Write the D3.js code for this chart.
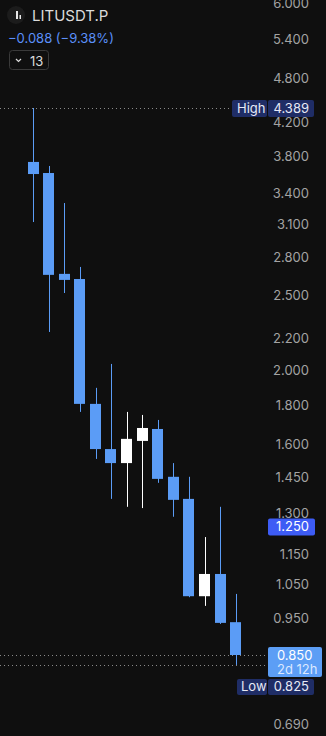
<!DOCTYPE html>
<html>
<head>
<meta charset="utf-8">
<script src="https://cdn.jsdelivr.net/npm/d3@7"></script>
<style>
  html, body { margin: 0; padding: 0; background: #0f0f0f; }
  svg { display: block; font-family: Inter, "Noto Sans", sans-serif; }
</style>
</head>
<body>
<div id="chart"></div>
<script>
// OHLC candles (log scale chart)
var opens  = [3.733, 3.611, 2.668, 2.627, 1.806, 1.577, 1.512, 1.616, 1.675, 1.451, 1.358, 1.014, 1.084, 0.938];
var highs  = [4.389, 3.688, 3.300, 2.724, 1.895, 2.036, 1.763, 1.747, 1.721, 1.512, 1.451, 1.211, 1.326, 1.021];
var lows   = [3.117, 2.241, 2.519, 1.763, 1.531, 1.358, 1.326, 1.321, 1.425, 1.287, 1.011, 0.985, 0.933, 0.825];
var closes = [3.600, 2.660, 2.620, 1.806, 1.577, 1.512, 1.626, 1.680, 1.442, 1.354, 1.014, 1.084, 0.936, 0.850];
var tickValues = [6.0, 5.4, 4.8, 4.2, 3.8, 3.4, 3.1, 2.8, 2.5, 2.2, 2.0, 1.8, 1.6, 1.45, 1.3, 1.15, 1.05, 0.95, 0.69];
var highValue = 4.389, lowValue = 0.825, lastValue = 0.850, lineValue = 1.250;

var W = 326, H = 736;
var up = "#ffffff", down = "#5b9cf6";

var svg = d3.select("#chart").append("svg")
  .attr("width", W).attr("height", H);

svg.append("rect").attr("width", W).attr("height", H).attr("fill", "#0f0f0f");

var y = d3.scaleLog()
  .domain([highValue, lastValue])
  .range([108, 655]);

var x = d3.scaleBand()
  .domain(d3.range(opens.length))
  .range([27.5, 241.5])
  .paddingInner(0.27)
  .paddingOuter(0.0);

// dotted guide lines
function dotted(v, x2) {
  svg.append("line")
    .attr("x1", 0).attr("x2", x2)
    .attr("y1", Math.round(y(v)) + 0.5).attr("y2", Math.round(y(v)) + 0.5)
    .attr("stroke", "#8a8a8a").attr("stroke-width", 1)
    .attr("stroke-dasharray", "1,3");
}
dotted(highValue, 232);
dotted(lastValue, 268);
dotted(lowValue, 268);

// candles
var candles = svg.append("g");
var g = candles.selectAll("g").data(opens).enter().append("g");

g.append("line")
  .attr("x1", function(d, i) { return Math.round(x(i) + x.bandwidth() / 2) + 0.5; })
  .attr("x2", function(d, i) { return Math.round(x(i) + x.bandwidth() / 2) + 0.5; })
  .attr("y1", function(d, i) { return y(highs[i]); })
  .attr("y2", function(d, i) { return y(lows[i]); })
  .attr("stroke", function(d, i) { return closes[i] >= opens[i] ? up : down; })
  .attr("stroke-width", 1);

g.append("rect")
  .attr("x", function(d, i) { return Math.round(x(i)); })
  .attr("width", Math.round(x.bandwidth()))
  .attr("y", function(d, i) { return y(Math.max(opens[i], closes[i])); })
  .attr("height", function(d, i) { return Math.max(1, y(Math.min(opens[i], closes[i])) - y(Math.max(opens[i], closes[i]))); })
  .attr("fill", function(d, i) { return closes[i] >= opens[i] ? up : down; });

// axis ticks (right side)
var axis = d3.axisRight(y)
  .tickValues(tickValues)
  .tickSize(0)
  .tickFormat(d3.format(".3f"));

var ax = svg.append("g").attr("transform", "translate(309,0)").call(axis);
ax.select(".domain").remove();
ax.selectAll("text")
  .attr("x", 0)
  .attr("text-anchor", "end")
  .attr("fill", "#a3a3a3")
  .style("font-size", "13px")
  .style("font-family", "Inter, 'Noto Sans', sans-serif");

// price labels
function box(x0, y0, w, h, fill) {
  svg.append("rect").attr("x", x0).attr("y", y0).attr("width", w).attr("height", h)
    .attr("rx", 2).attr("fill", fill);
}
function label(txt, xx, yy, anchor, color) {
  svg.append("text").attr("x", xx).attr("y", yy)
    .attr("text-anchor", anchor || "start")
    .attr("dy", "0.35em")
    .attr("fill", color || "#ffffff")
    .style("font-size", "13px")
    .text(txt);
}

var hy = y(highValue);
box(232, hy - 8, 35, 17, "#1f2d66");
box(268, hy - 8, 46, 17, "#1f2d66");
label("High", 237, hy, "start", "#e6e9f5");
label(d3.format(".3f")(highValue), 309, hy, "end", "#e6e9f5");

var ly = y(lineValue);
box(268, ly - 8, 47, 17, "#3d5cf5");
label(d3.format(".3f")(lineValue), 309, ly, "end");

var py = y(lastValue);
box(268, py - 8, 54, 30, "#5c9ef5");
label(d3.format(".3f")(lastValue), 277, py, "start");
label("2d 12h", 277, py + 14, "start", "#dbe8ff");

var lo = y(lowValue) + 22;
box(237, lo - 8, 30, 16, "#1f2d66");
box(268, lo - 8, 46, 16, "#1f2d66");
label("Low", 241, lo, "start", "#e6e9f5");
label(d3.format(".3f")(lowValue), 309, lo, "end", "#e6e9f5");

// header
svg.append("circle").attr("cx", 16).attr("cy", 15).attr("r", 9).attr("fill", "#1c1c1c");
svg.append("rect").attr("x", 16).attr("y", 11).attr("width", 2).attr("height", 8).attr("fill", "#e8e8e8");
svg.append("rect").attr("x", 19.5).attr("y", 15).attr("width", 1.5).attr("height", 4).attr("fill", "#e8e8e8");

svg.append("text").attr("x", 32).attr("y", 16).attr("dy", "0.35em")
  .attr("fill", "#dcdcdc").style("font-size", "15px").text("LITUSDT.P");
svg.append("text").attr("x", 8).attr("y", 38).attr("dy", "0.35em")
  .attr("fill", "#5b8ff9").style("font-size", "13px").text("\u22120.088 (\u22129.38%)");

svg.append("rect").attr("x", 9.5).attr("y", 50.5).attr("width", 39).attr("height", 19)
  .attr("rx", 3).attr("fill", "none").attr("stroke", "#3a3a3a");
svg.append("path").attr("d", "M16,59 L18.5,61.5 L21,59")
  .attr("fill", "none").attr("stroke", "#dcdcdc").attr("stroke-width", 1.2);
svg.append("text").attr("x", 30).attr("y", 61).attr("dy", "0.35em")
  .attr("fill", "#dcdcdc").style("font-size", "13px").text("13");
</script>
</body>
</html>
